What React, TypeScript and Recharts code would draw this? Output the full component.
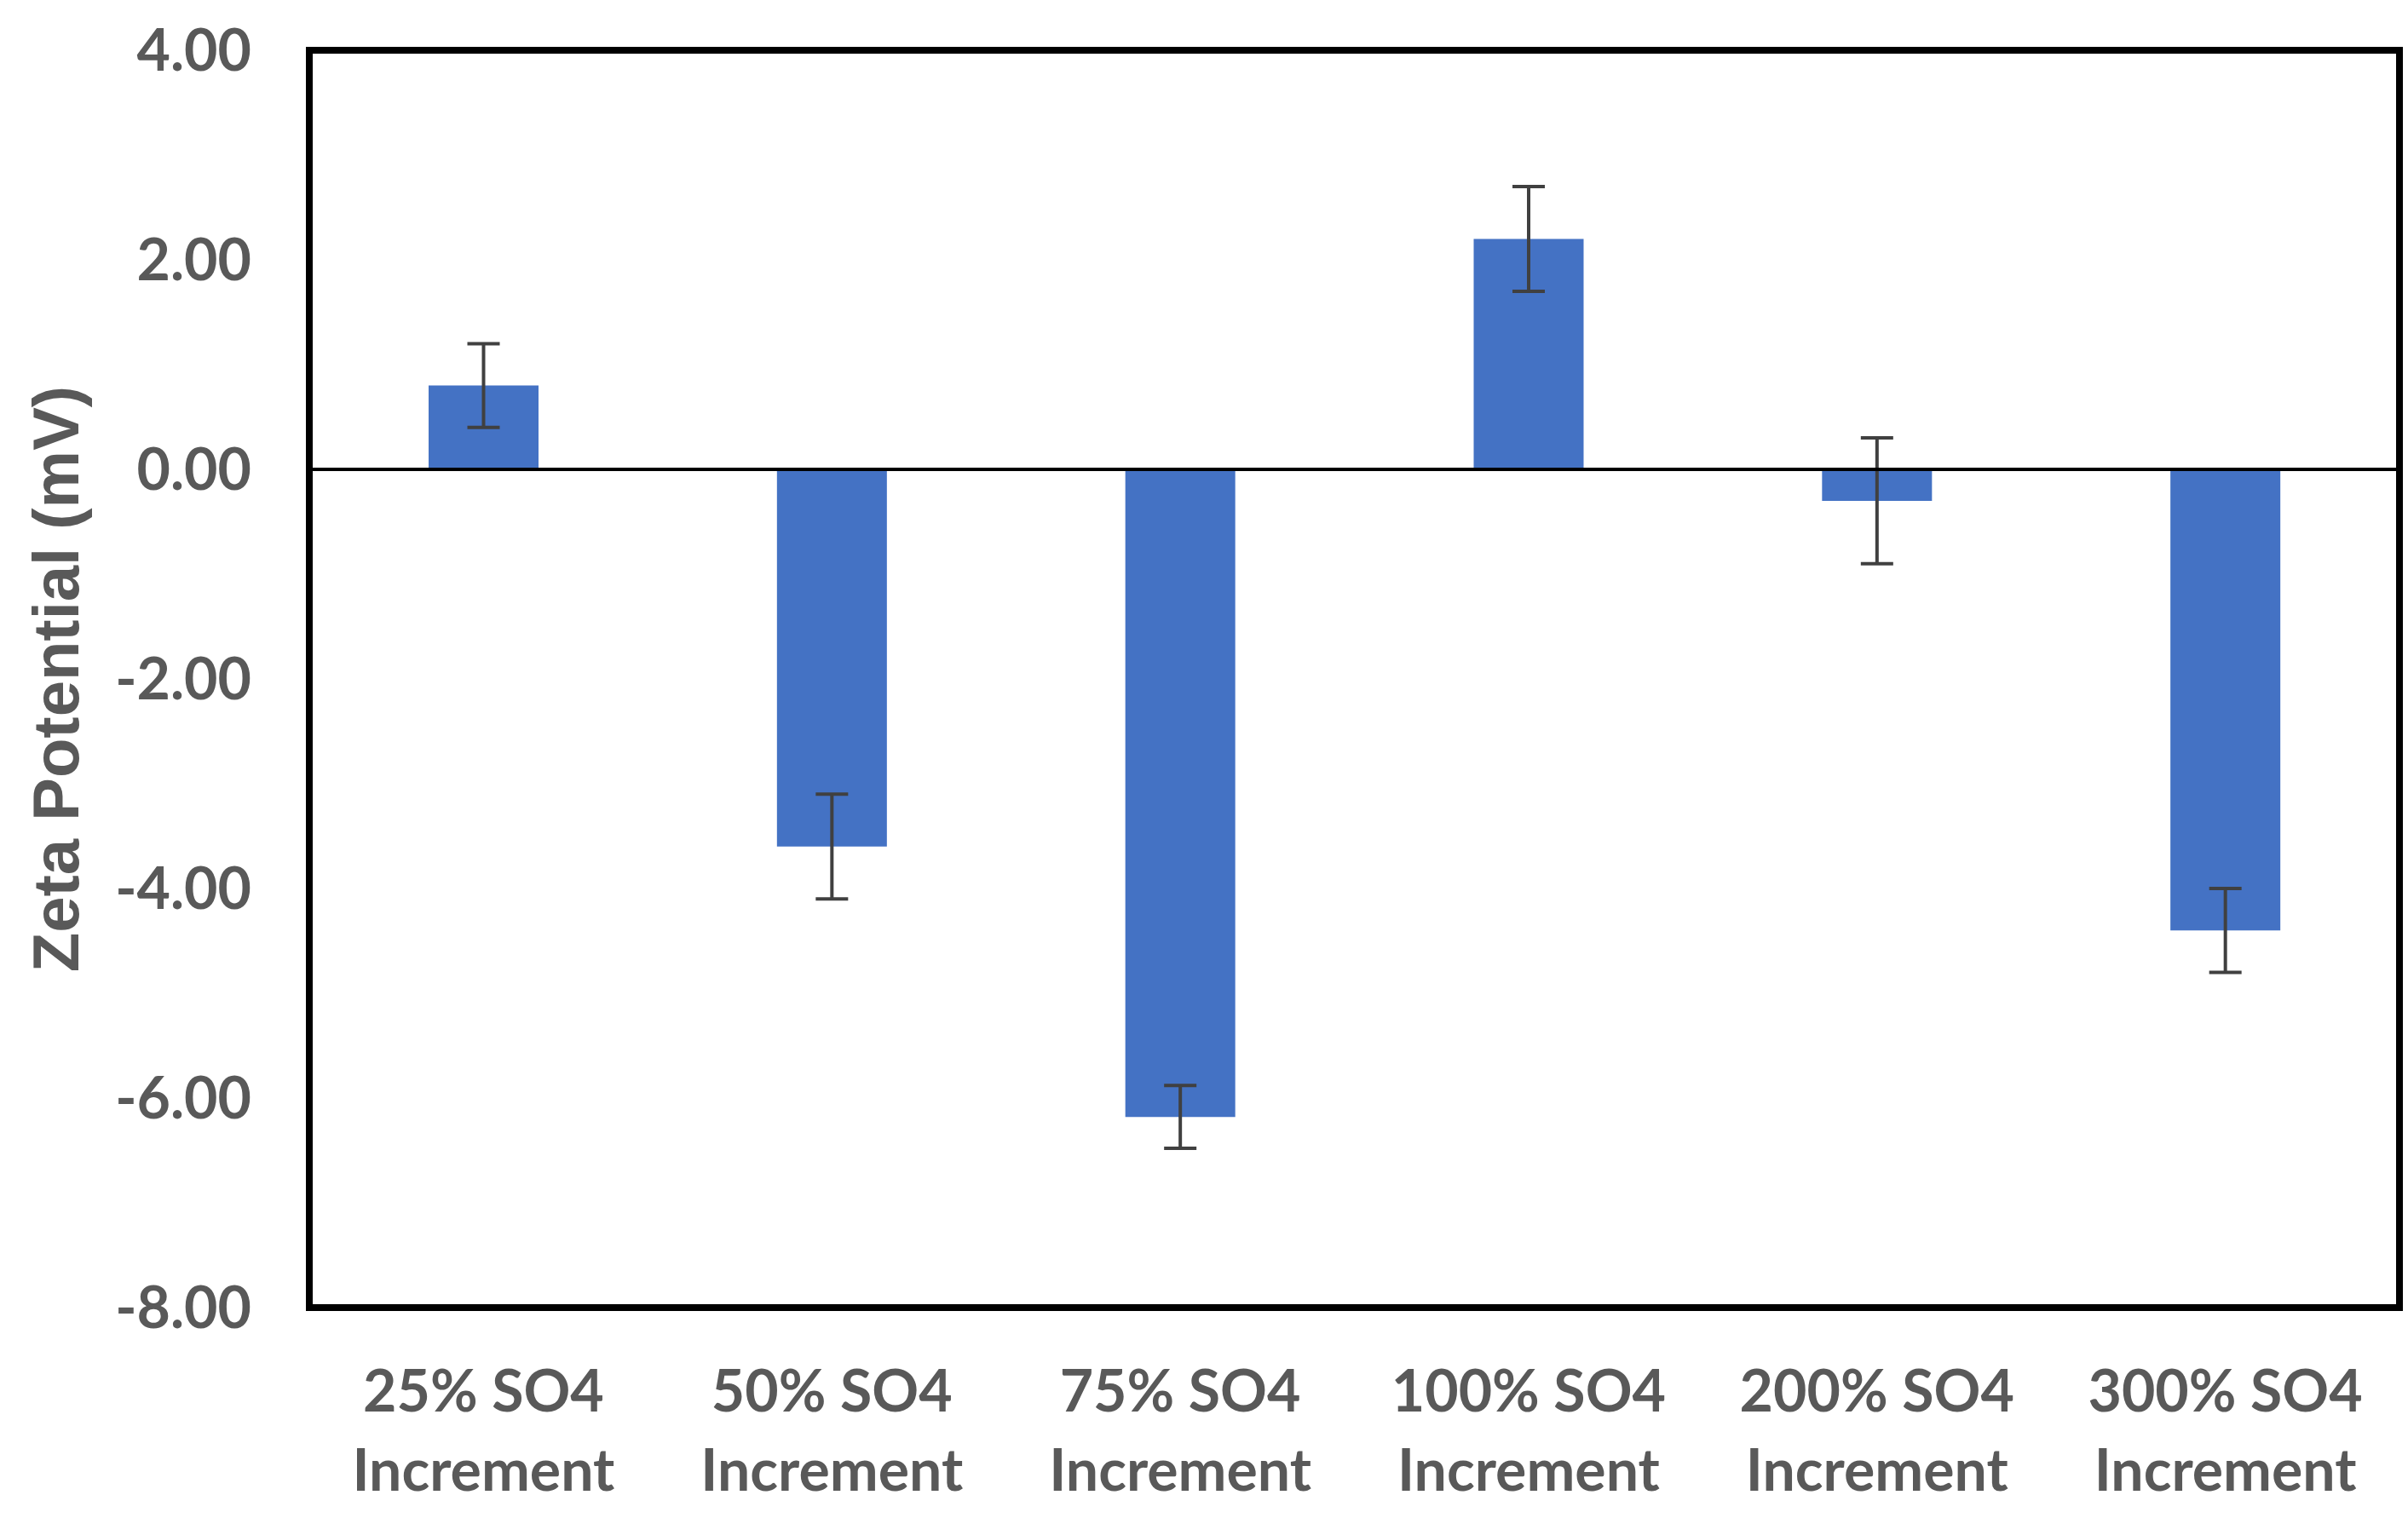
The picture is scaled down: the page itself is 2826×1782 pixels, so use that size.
import { BarChart, Bar, XAxis, YAxis, ErrorBar, ReferenceLine, ReferenceArea } from "recharts";

const categories = [
  "25% SO4 Increment",
  "50% SO4 Increment",
  "75% SO4 Increment",
  "100% SO4 Increment",
  "200% SO4 Increment",
  "300% SO4 Increment",
];
const zetaValues = [0.8, -3.6, -6.18, 2.2, -0.3, -4.4];
const zetaErrors = [0.4, 0.5, 0.3, 0.5, 0.6, 0.4];
const yTicks = [-8, -6, -4, -2, 0, 2, 4];

const data = categories.map((name, i) => ({
  name,
  zeta: zetaValues[i],
  err: zetaErrors[i],
}));

const GRAY = "#595959";

// two-line category label: "xx% SO4" over "Increment"
function CategoryTick(props: any) {
  const { x, y, payload } = props;
  const words = String(payload.value).split(" ");
  const first = words.slice(0, -1).join(" ");
  const last = words[words.length - 1];
  return (
    <text
      x={x}
      y={y}
      textAnchor="middle"
      fill={GRAY}
      fontFamily="Lato"
      fontWeight={700}
      fontSize={68}
    >
      <tspan x={x} dy={116}>
        {first}
      </tspan>
      <tspan x={x} dy={93}>
        {last}
      </tspan>
    </text>
  );
}

function YTitle(props: any) {
  const { viewBox } = props;
  const cy = viewBox.y + viewBox.height / 2;
  return (
    <text
      x={65}
      y={cy}
      transform={`rotate(-90, 65, ${cy})`}
      textAnchor="middle"
      dominantBaseline="central"
      fill={GRAY}
      fontFamily="Liberation Sans"
      fontWeight={700}
      fontSize={76}
    >
      Zeta Potential (mV)
    </text>
  );
}

export default function App() {
  return (
    <div style={{ width: 2826, height: 1782, background: "#fff" }}>
      <style>{`body{margin:0}`}</style>
      <BarChart
        width={2826}
        height={1782}
        data={data}
        margin={{ top: 59, right: 10, bottom: 0, left: 63 }}
      >
        <XAxis
          dataKey="name"
          axisLine={false}
          tickLine={false}
          tickMargin={0}
          height={247}
          interval={0}
          tick={<CategoryTick />}
        />
        <YAxis
          width={300}
          domain={[-8, 4]}
          ticks={yTicks}
          allowDataOverflow
          axisLine={false}
          tickLine={false}
          tickMargin={62}
          tickFormatter={(v: number) => v.toFixed(2)}
          tick={{ fill: GRAY, fontFamily: "Lato", fontWeight: 700, fontSize: 68 }}
          label={{ content: <YTitle /> }}
        />
        <Bar dataKey="zeta" fill="#4472C4" barSize={129} isAnimationActive={false}>
          <ErrorBar dataKey="err" direction="y" width={19} stroke="#404040" strokeWidth={4} />
        </Bar>
        <ReferenceLine y={0} stroke="#000" strokeWidth={4} />
        <ReferenceArea y1={-8} y2={4} fill="none" stroke="#000" strokeWidth={8} />
      </BarChart>
    </div>
  );
}
